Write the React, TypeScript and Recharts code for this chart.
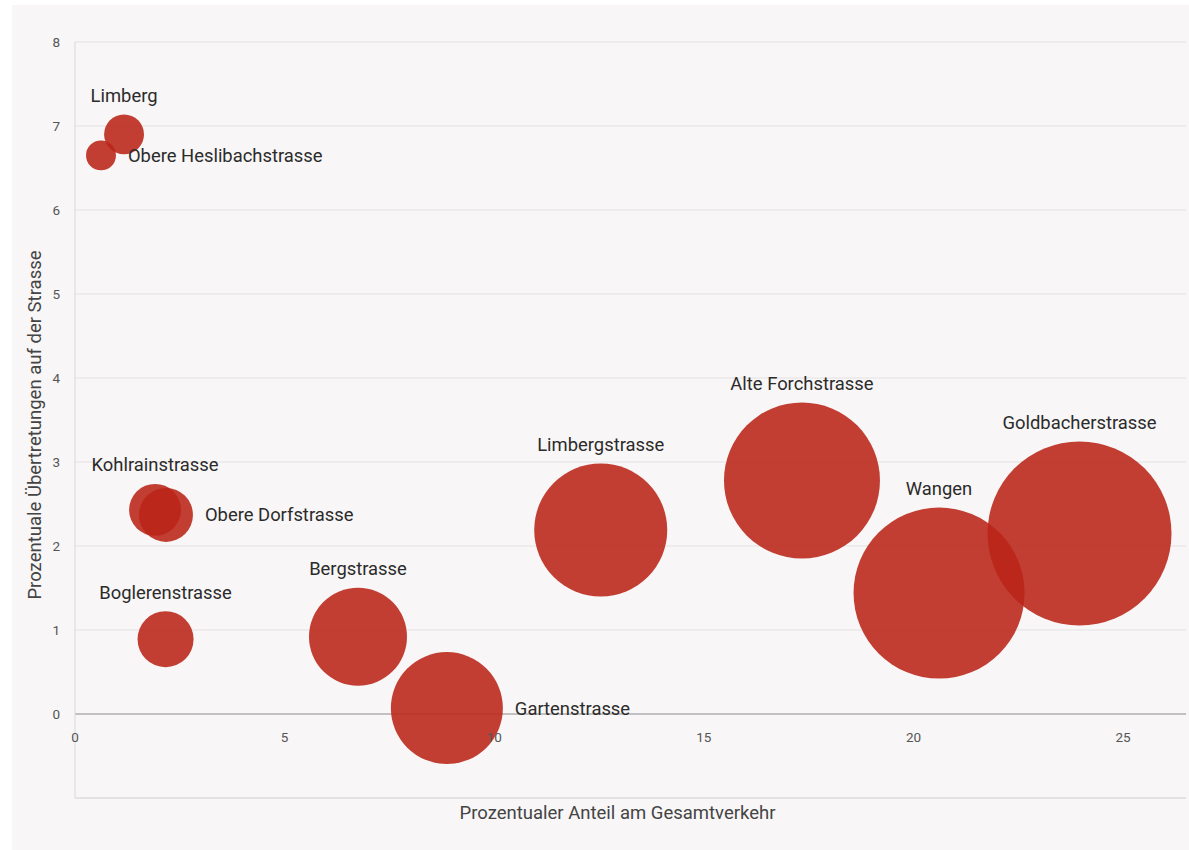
import { ScatterChart, Scatter, XAxis, YAxis, ZAxis, CartesianGrid, ReferenceLine, Label } from 'recharts'

const strassen = [
  'Limberg',
  'Obere Heslibachstrasse',
  'Kohlrainstrasse',
  'Obere Dorfstrasse',
  'Boglerenstrasse',
  'Bergstrasse',
  'Gartenstrasse',
  'Limbergstrasse',
  'Alte Forchstrasse',
  'Wangen',
  'Goldbacherstrasse',
]
// Prozentualer Anteil am Gesamtverkehr
const anteil = [1.17, 0.62, 1.91, 2.17, 2.16, 6.75, 8.87, 12.54, 17.34, 20.61, 23.96]
// Prozentuale Übertretungen auf der Strasse
const uebertretungen = [6.9, 6.65, 2.43, 2.37, 0.89, 0.92, 0.07, 2.19, 2.78, 1.44, 2.15]
// bubble size (area)
const groesse = [1.14, 0.64, 1.93, 2.08, 2.24, 6.86, 8.96, 12.64, 17.38, 20.89, 24.18]

const xTicks = [0, 5, 10, 15, 20, 25]
const yTicks = [0, 1, 2, 3, 4, 5, 6, 7, 8]

// these names sit right of their bubble, the rest above it
const rechtsBeschriftet = ['Obere Heslibachstrasse', 'Obere Dorfstrasse', 'Gartenstrasse']

const data = strassen.map((name, i) => ({
  name,
  x: anteil[i],
  y: uebertretungen[i],
  z: groesse[i],
}))

const FONT = 'Roboto, "Noto Sans", sans-serif'
const RED = '#ba2418'

function Bubble(props: any) {
  const { cx, cy, width } = props
  return <circle cx={cx} cy={cy} r={width / 2} fill={RED} fillOpacity={0.88} />
}

function BubbleLabel(props: any) {
  const { cx, cy, width, payload } = props
  const r = width / 2
  const right = rechtsBeschriftet.includes(payload.name)
  return (
    <text
      x={right ? cx + r + 12 : cx}
      y={right ? cy + 6.5 : cy - r - 12.5}
      textAnchor={right ? 'start' : 'middle'}
      fontSize={18.4}
      fontFamily={FONT}
      fill="#2b2b2b"
    >
      {payload.name}
    </text>
  )
}

function XTick(props: any) {
  const { x, y, payload } = props
  // labels sit just under the zero line, not at the bottom edge
  return (
    <text x={x} y={y - 64} textAnchor="middle" fontSize={13.5} fontFamily={FONT} fill="#555">
      {payload.value}
    </text>
  )
}

function XTitle(props: any) {
  const { x, y, width } = props.viewBox
  return (
    <text x={x + width / 2 - 13} y={y + 21} textAnchor="middle" fontSize={18.5} fontFamily={FONT} fill="#444">
      Prozentualer Anteil am Gesamtverkehr
    </text>
  )
}

function YTitle(props: any) {
  const { y, height } = props.viewBox
  const cx = 23
  const cy = y + height / 2 + 5
  return (
    <text
      x={cx}
      y={cy}
      transform={`rotate(-90, ${cx}, ${cy})`}
      textAnchor="middle"
      dominantBaseline="central"
      fontSize={18.5}
      fontFamily={FONT}
      fill="#444"
    >
      Prozentuale Übertretungen auf der Strasse
    </text>
  )
}

export default function App() {
  return (
    <div
      style={{
        position: 'absolute',
        left: 12,
        top: 5,
        width: 1177,
        height: 845,
        background: '#f8f6f6',
        fontFamily: FONT,
      }}
    >
      <ScatterChart width={1177} height={845} margin={{ top: 37, right: 3, bottom: 0, left: 0 }}>
        <CartesianGrid vertical={false} stroke="#e3e1e1" />
        <XAxis
          type="number"
          dataKey="x"
          domain={[0, 26.5]}
          ticks={xTicks}
          interval={0}
          allowDataOverflow
          height={52}
          tickLine={false}
          axisLine={{ stroke: '#dad8d8' }}
          tick={XTick}
        >
          <Label content={XTitle} />
        </XAxis>
        <YAxis
          type="number"
          dataKey="y"
          domain={[-1, 8]}
          ticks={yTicks}
          interval={0}
          allowDataOverflow
          width={63}
          tickLine={false}
          tickMargin={9}
          axisLine={{ stroke: '#dad8d8' }}
          tick={{ fill: '#555', fontSize: 13.5, fontFamily: FONT }}
        >
          <Label content={YTitle} />
        </YAxis>
        <ZAxis type="number" dataKey="z" domain={[0, 25]} range={[0, Math.PI * 350 * 25]} />
        <ReferenceLine y={0} stroke="#c2c0c0" strokeWidth={2} />
        <Scatter data={data} shape={Bubble} isAnimationActive={false} />
        <Scatter data={data} shape={BubbleLabel} isAnimationActive={false} />
      </ScatterChart>
    </div>
  )
}
